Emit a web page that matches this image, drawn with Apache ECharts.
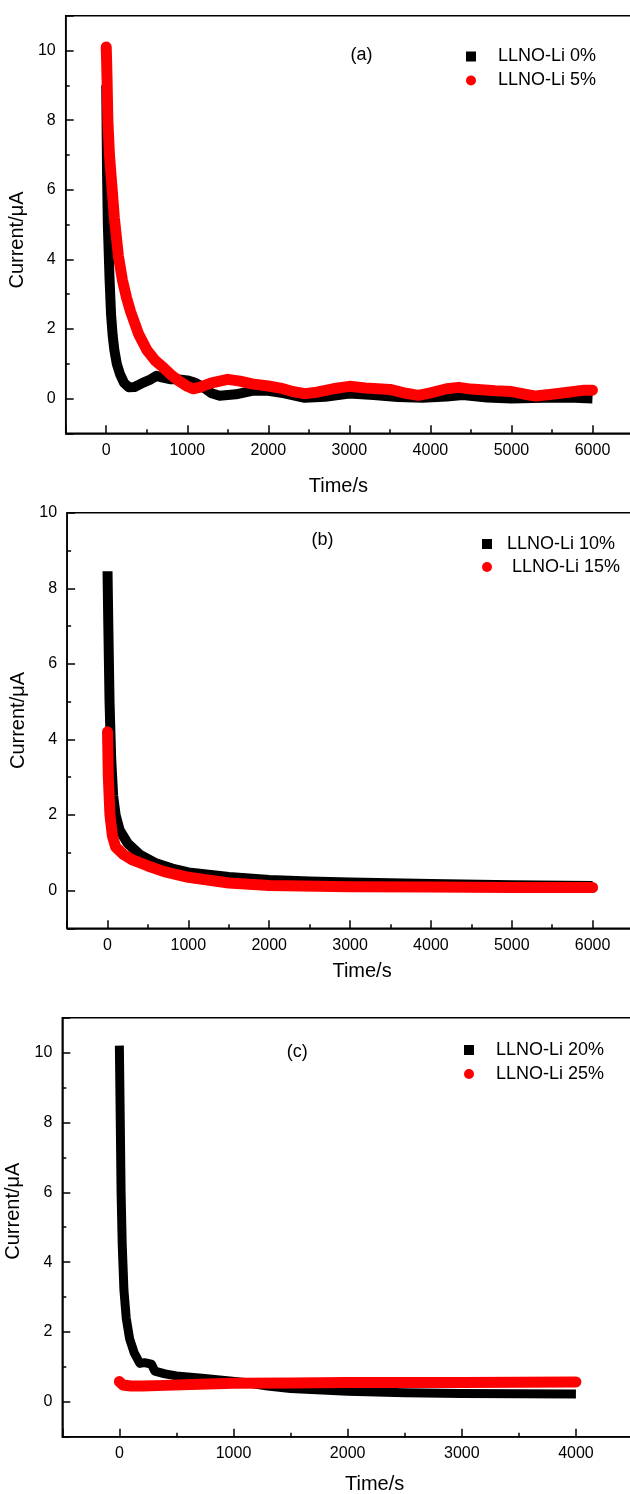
<!DOCTYPE html>
<html>
<head>
<meta charset="utf-8">
<script src="https://cdn.jsdelivr.net/npm/echarts@6/dist/echarts.min.js"></script>
<style>
  html, body { margin: 0; padding: 0; overflow: hidden; background: #fff; }
  #main { width: 640px; height: 1494px; }
</style>
</head>
<body>
<div id="main"></div>
<script>
// (a) LLNO-Li 0% / 5%
const timeA0 = [0, 10, 20, 40, 60, 80, 100, 130, 170, 220, 280, 350, 450, 550, 620, 700, 800, 900, 1000, 1100, 1200, 1300, 1400, 1600, 1800, 2000, 2200, 2450, 2700, 3000, 3300, 3600, 3900, 4200, 4400, 4700, 5000, 5400, 5700, 6000];
const currentA0 = [9.0, 6.5, 5.0, 3.5, 2.4, 1.8, 1.4, 1.0, 0.7, 0.45, 0.32, 0.33, 0.45, 0.55, 0.65, 0.6, 0.55, 0.55, 0.52, 0.45, 0.32, 0.15, 0.08, 0.12, 0.22, 0.22, 0.15, 0.02, 0.05, 0.14, 0.1, 0.04, 0.02, 0.06, 0.1, 0.03, 0.0, 0.02, 0.03, 0.0];
const timeA5 = [0, 5, 10, 20, 40, 70, 100, 150, 200, 250, 300, 400, 500, 600, 700, 800, 900, 1000, 1070, 1150, 1300, 1500, 1650, 1800, 2000, 2150, 2300, 2450, 2600, 2800, 3000, 3200, 3500, 3700, 3850, 4000, 4200, 4350, 4500, 4800, 5000, 5150, 5300, 5500, 5700, 5900, 6000];
const currentA5 = [10.1, 9.7, 9.2, 8.0, 7.0, 6.1, 5.2, 4.1, 3.4, 2.9, 2.5, 1.85, 1.4, 1.1, 0.9, 0.68, 0.5, 0.35, 0.28, 0.32, 0.45, 0.55, 0.5, 0.42, 0.36, 0.3, 0.2, 0.14, 0.18, 0.28, 0.35, 0.3, 0.26, 0.15, 0.09, 0.16, 0.28, 0.32, 0.27, 0.22, 0.2, 0.13, 0.07, 0.12, 0.18, 0.24, 0.24];

// (b) LLNO-Li 10% / 15%
const timeB10 = [0, 10, 25, 45, 70, 100, 150, 250, 400, 600, 800, 1000, 1500, 2000, 2500, 3000, 4000, 5000, 6000];
const currentB10 = [8.45, 7.0, 5.0, 3.5, 2.5, 2.0, 1.6, 1.25, 0.95, 0.72, 0.58, 0.48, 0.36, 0.28, 0.24, 0.21, 0.17, 0.14, 0.12];
const timeB15 = [0, 10, 30, 60, 100, 200, 300, 500, 700, 1000, 1500, 2000, 3000, 4000, 5000, 6000];
const currentB15 = [4.2, 3.0, 2.0, 1.45, 1.15, 0.95, 0.82, 0.65, 0.5, 0.35, 0.2, 0.13, 0.1, 0.09, 0.08, 0.08];

// (c) LLNO-Li 20% / 25%
const timeC20 = [0, 8, 15, 25, 40, 60, 90, 130, 180, 220, 280, 310, 400, 500, 700, 900, 1100, 1300, 1500, 2000, 2500, 3000, 3500, 4000];
const currentC20 = [10.2, 8.0, 6.0, 4.5, 3.2, 2.4, 1.8, 1.4, 1.1, 1.12, 1.08, 0.88, 0.8, 0.74, 0.68, 0.62, 0.55, 0.45, 0.38, 0.3, 0.26, 0.24, 0.23, 0.22];
const timeC25 = [0, 30, 100, 200, 400, 700, 1000, 1500, 2000, 3000, 3500, 4000];
const currentC25 = [0.58, 0.48, 0.45, 0.45, 0.47, 0.5, 0.53, 0.54, 0.55, 0.55, 0.56, 0.57];

// axis ranges and tick steps
const xMinAll = -500;
const xMaxAB = 6500;
const xMaxC = 4500;
const xMinorStep = 500;
const yMinAll = -1;
const yMaxAC = 11;
const yMaxB = 10;
const yMinorStep = 1;
const xLabelMax = { 0: 6000, 1: 6000, 2: 4000 };
const yLabelMax = 10;

const seriesNames = [
  ['LLNO-Li 0%', 'LLNO-Li 5%'],
  ['LLNO-Li 10%', 'LLNO-Li 15%'],
  ['LLNO-Li 20%', 'LLNO-Li 25%']
];

function pairs(t, v) {
  return t.map((x, i) => [x, v[i]]);
}

const FONT = 'Liberation Sans, Arial, sans-serif';

const panels = [
  { left: 65.7, top: 15.7, height: 417.6, xMax: xMaxAB, yMax: yMaxAC,
    xNameGap: 43, xNamePad: [0, 22, 0, 0], yNameGap: 33, yNamePad: [0, 31, 0, 0],
    black: pairs(timeA0, currentA0), red: pairs(timeA5, currentA5), blackWidth: 10,
    legend: { left: 461, top: 42.5, itemWidth: 44, itemGap: 6 }, label: '(a)', labelPos: [361.6, 55] },
  { left: 67.1, top: 512.7, height: 415.6, xMax: xMaxAB, yMax: yMaxB,
    xNameGap: 33, xNamePad: [0, 0, 0, 24], yNameGap: 33, yNamePad: [0, 0, 0, 0],
    black: pairs(timeB10, currentB10), red: pairs(timeB15, currentB15), blackWidth: 10,
    legend: { left: 477, top: 530, itemWidth: 30, itemGap: 5 }, label: '(b)', labelPos: [322.6, 540] },
  { left: 62.3, top: 1017.7, height: 419, xMax: xMaxC, yMax: yMaxAC,
    xNameGap: 38, xNamePad: [0, 0, 0, 54], yNameGap: 33, yNamePad: [0, 0, 0, 32],
    black: pairs(timeC20, currentC20), red: pairs(timeC25, currentC25), blackWidth: 9,
    legend: { left: 459, top: 1036, itemWidth: 44, itemGap: 6 }, label: '(c)', labelPos: [297.3, 1052.3] }
];

const grid = [], xAxis = [], yAxis = [], series = [], legend = [], graphic = [];
const axisLine = { show: true, onZero: false, lineStyle: { color: '#000', width: 1.5 } };
const tickStyle = { color: '#000', width: 1.5 };

panels.forEach((p, i) => {
  grid.push({
    left: p.left, top: p.top, right: 7, height: p.height,
    outerBoundsMode: 'none', containLabel: false,
    show: true, borderColor: '#000', borderWidth: 1.5, backgroundColor: 'transparent'
  });
  // major x axis: auto nice ticks every 1000
  xAxis.push({
    type: 'value', gridIndex: i, position: 'bottom', min: xMinAll, max: p.xMax,
    axisLine: axisLine,
    axisTick: { show: true, inside: true, length: 8, lineStyle: tickStyle },
    axisLabel: {
      color: '#000', fontSize: 16, margin: 9, fontFamily: FONT,
      formatter: v => (v < 0 || v > xLabelMax[i] ? '' : String(v))
    },
    splitLine: { show: false },
    name: 'Time/s', nameLocation: 'middle', nameGap: p.xNameGap,
    nameTextStyle: { color: '#000', fontSize: 20, fontFamily: FONT, padding: p.xNamePad }
  });
  // minor x ticks every 500
  xAxis.push({
    type: 'value', gridIndex: i, position: 'bottom', min: xMinAll, max: p.xMax, interval: xMinorStep,
    axisLine: { show: false, onZero: false },
    axisTick: { show: true, inside: true, length: 4, lineStyle: tickStyle },
    axisLabel: { show: false }, splitLine: { show: false }
  });
  yAxis.push({
    type: 'value', gridIndex: i, position: 'left', min: yMinAll, max: p.yMax,
    axisLine: axisLine,
    axisTick: { show: true, inside: true, length: 8, lineStyle: tickStyle },
    axisLabel: {
      color: '#000', fontSize: 16, margin: 10, fontFamily: FONT,
      formatter: v => (v < 0 || v > yLabelMax ? '' : String(v))
    },
    splitLine: { show: false },
    name: 'Current/μA', nameLocation: 'middle', nameGap: p.yNameGap,
    nameTextStyle: { color: '#000', fontSize: 20, fontFamily: FONT, padding: p.yNamePad }
  });
  yAxis.push({
    type: 'value', gridIndex: i, position: 'left', min: yMinAll, max: p.yMax, interval: yMinorStep,
    axisLine: { show: false, onZero: false },
    axisTick: { show: true, inside: true, length: 4, lineStyle: tickStyle },
    axisLabel: { show: false }, splitLine: { show: false }
  });
  const [nBlack, nRed] = seriesNames[i];
  series.push({
    name: nBlack, type: 'line', xAxisIndex: 2 * i, yAxisIndex: 2 * i,
    data: p.black, showSymbol: false, symbol: 'none', smooth: false,
    itemStyle: { color: '#000' },
    lineStyle: { color: '#000', width: p.blackWidth, cap: 'butt', join: 'round' },
    animation: false, clip: true
  });
  series.push({
    name: nRed, type: 'line', xAxisIndex: 2 * i, yAxisIndex: 2 * i,
    data: p.red, showSymbol: false, symbol: 'none', smooth: false,
    itemStyle: { color: '#ff0000' },
    lineStyle: { color: '#ff0000', width: 11, cap: 'round', join: 'round' },
    animation: false, clip: true
  });
  legend.push({
    orient: 'vertical', left: p.legend.left, top: p.legend.top,
    itemWidth: p.legend.itemWidth, itemHeight: 10, itemGap: p.legend.itemGap,
    symbolKeepAspect: true, selectedMode: false,
    textStyle: { color: '#000', fontSize: 18, fontFamily: FONT },
    formatter: name => (name === 'LLNO-Li 15%' ? ' ' + name : name),
    data: [
      { name: nBlack, icon: 'path://M0,0H10V10H0Z', itemStyle: { color: '#000' } },
      { name: nRed, icon: 'circle', itemStyle: { color: '#ff0000' } }
    ]
  });
  graphic.push({
    type: 'text', x: p.labelPos[0], y: p.labelPos[1],
    style: { text: p.label, fill: '#000', font: '18px ' + FONT, align: 'center', verticalAlign: 'middle' }
  });
});

const chart = echarts.init(document.getElementById('main'), null, { renderer: 'canvas' });
chart.setOption({
  animation: false,
  backgroundColor: '#fff',
  grid: grid,
  xAxis: xAxis,
  yAxis: yAxis,
  legend: legend,
  graphic: graphic,
  series: series
});
</script>
</body>
</html>
